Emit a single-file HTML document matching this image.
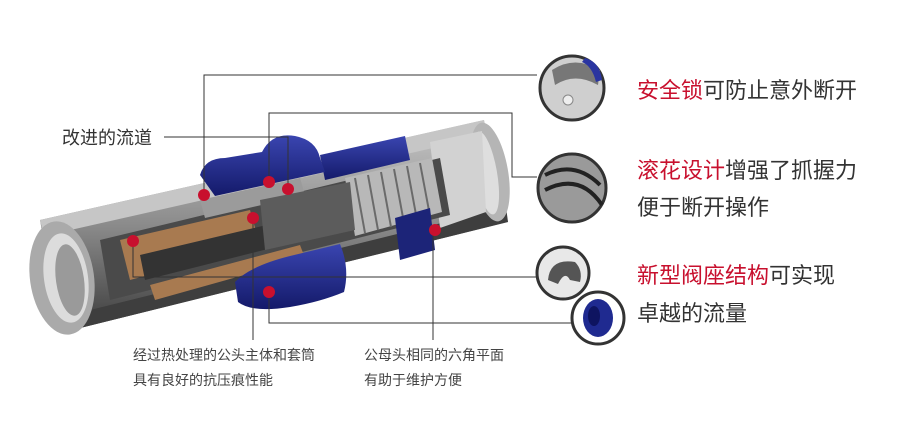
<!DOCTYPE html>
<html><head><meta charset="utf-8"><style>
html,body{margin:0;padding:0;background:#fff;}
svg{display:block;}
text{font-family:"Liberation Sans","Noto Sans CJK SC",sans-serif;}
</style></head><body>
<svg width="900" height="443" viewBox="0 0 900 443" xmlns="http://www.w3.org/2000/svg">
<defs>
<linearGradient id="g1" x1="0" y1="0" x2="0" y2="1"><stop offset="0" stop-color="#c8c8c8"/><stop offset="0.5" stop-color="#8a8a8a"/><stop offset="1" stop-color="#3a3a3a"/></linearGradient>
<linearGradient id="bl" x1="0" y1="0" x2="0" y2="1"><stop offset="0" stop-color="#3a45b0"/><stop offset="1" stop-color="#141a6a"/></linearGradient>
</defs>
<!-- main tube -->
<polygon points="40,220 484,120 508,222 60,333" fill="url(#g1)"/>
<polygon points="40,220 484,120 486,136 44,236" fill="#c6c6c6"/>
<polygon points="58,318 506,207 508,222 60,333" fill="#3e3e3e"/>
<!-- right end opening -->
<ellipse cx="490" cy="172" rx="18" ry="50" transform="rotate(-10 490 172)" fill="#b5b5b5"/>
<ellipse cx="486" cy="173" rx="11" ry="42" transform="rotate(-10 486 173)" fill="#dedede"/>
<polygon points="430,142 482,131 486,212 440,228" fill="#d2d2d2"/>
<!-- interior cutaway -->
<polygon points="100,240 440,158 450,215 110,300" fill="#4a4a4a"/>
<!-- spring area -->
<polygon points="345,178 432,158 442,212 355,236" fill="#b8b8b8"/>
<g stroke="#6a6a6a" stroke-width="2">
<line x1="355" y1="178" x2="365" y2="233"/><line x1="368" y1="175" x2="378" y2="230"/><line x1="381" y1="172" x2="391" y2="227"/><line x1="394" y1="169" x2="404" y2="223"/><line x1="407" y1="166" x2="417" y2="220"/><line x1="420" y1="163" x2="430" y2="216"/>
</g>
<polygon points="120,240 250,210 260,245 130,280" fill="#a87a50"/>
<polygon points="140,255 330,210 335,232 145,280" fill="#333"/>
<polygon points="150,285 300,245 305,258 155,300" fill="#a87a50"/>
<polygon points="200,200 300,178 305,195 205,218" fill="#9b9b9b"/>
<polygon points="260,200 350,182 355,230 265,250" fill="#5c5c5c"/>
<!-- blue rear sleeve -->
<polygon points="320,155 405,136 410,160 325,180" fill="url(#bl)"/>
<polygon points="395,218 430,208 435,250 400,260" fill="#1c2478"/>
<!-- blue front sleeve -->
<path d="M200,175 Q205,158 225,158 L262,152 Q272,132 295,136 Q316,140 320,158 L325,172 L215,196 Z" fill="url(#bl)"/>
<path d="M235,282 Q250,266 290,256 L340,244 Q350,268 344,292 Q320,302 290,307 Q252,313 238,302 Z" fill="url(#bl)"/>
<!-- left end -->
<ellipse cx="62" cy="278" rx="32" ry="57" transform="rotate(-8 62 278)" fill="#aaa"/>
<ellipse cx="66" cy="278" rx="22" ry="45" transform="rotate(-8 66 278)" fill="#dcdcdc"/>
<ellipse cx="70" cy="280" rx="14" ry="36" transform="rotate(-8 70 280)" fill="#9a9a9a"/>
<!-- connectors -->
<g stroke="#333" stroke-width="1" fill="none">
<polyline points="204,195 204,75 537,75"/>
<polyline points="269,182 269,113 512,113 512,177 537,177"/>
<polyline points="164,137 288,137 288,189"/>
<polyline points="133,241 133,277 537,277"/>
<polyline points="269,292 269,323 571,323"/>
<line x1="253" y1="218" x2="253" y2="340"/>
<line x1="433" y1="230" x2="433" y2="340"/>
</g>
<g fill="#c8102e">
<circle cx="204" cy="195" r="6"/><circle cx="269" cy="182" r="6"/><circle cx="288" cy="189" r="6"/>
<circle cx="253" cy="218" r="6"/><circle cx="133" cy="241" r="6"/><circle cx="269" cy="292" r="6"/><circle cx="435" cy="230" r="6"/>
</g>
<!-- detail circles -->
<circle cx="572" cy="88" r="32" fill="#cfcfcf" stroke="#333" stroke-width="3"/>
<path d="M552,70 Q575,55 600,70 L598,85 Q575,72 555,85 Z" fill="#777"/>
<path d="M585,58 Q600,62 602,80 L596,82 Q592,66 582,62 Z" fill="#2a35a0"/>
<circle cx="568" cy="100" r="5" fill="#eee" stroke="#888"/>
<circle cx="572" cy="188" r="34" fill="#9a9a9a" stroke="#333" stroke-width="3"/>
<path d="M545,175 Q575,160 600,185 M545,190 Q580,172 602,205" stroke="#222" stroke-width="4" fill="none"/>
<circle cx="563" cy="273" r="26" fill="#e8e8e8" stroke="#333" stroke-width="3"/>
<path d="M548,280 Q550,258 575,262 Q583,270 580,282 L570,280 Q565,270 558,284 Z" fill="#555"/>
<circle cx="598" cy="318" r="26" fill="#fff" stroke="#333" stroke-width="3"/>
<ellipse cx="598" cy="318" rx="15" ry="19" fill="#1f2a90"/>
<ellipse cx="594" cy="316" rx="6" ry="10" fill="#0e1460"/>
<!-- texts -->
<text x="62" y="144" font-size="18" fill="#333">改进的流道</text>
<text x="133" y="360" font-size="14" fill="#444">经过热处理的公头主体和套筒</text>
<text x="133" y="385" font-size="14" fill="#444">具有良好的抗压痕性能</text>
<text x="364" y="360" font-size="14" fill="#444">公母头相同的六角平面</text>
<text x="364" y="385" font-size="14" fill="#444">有助于维护方便</text>
<g font-size="22" fill="#333">
<text x="637" y="98"><tspan fill="#c8102e">安全锁</tspan>可防止意外断开</text>
<text x="637" y="178"><tspan fill="#c8102e">滚花设计</tspan>增强了抓握力</text>
<text x="637" y="215">便于断开操作</text>
<text x="637" y="283"><tspan fill="#c8102e">新型阀座结构</tspan>可实现</text>
<text x="637" y="321">卓越的流量</text>
</g>
</svg>
</body></html>
